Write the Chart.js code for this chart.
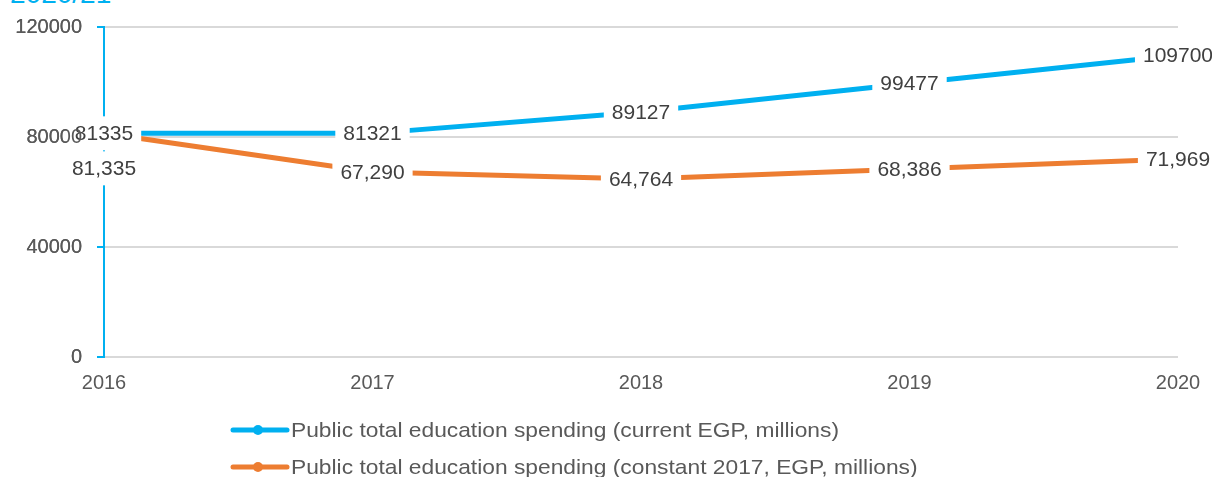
<!DOCTYPE html>
<html>
<head>
<meta charset="utf-8">
<title>Public education spending</title>
<script src="https://cdn.jsdelivr.net/npm/chart.js@4"></script>
<style>
  html, body { margin: 0; padding: 0; background: #fff; overflow: hidden; }
  #wrap { position: relative; width: 1212px; height: 477px; }
  #period { position: absolute; left: 10px; top: -22px; line-height: 30px; font: 28px "Liberation Sans", Arial, sans-serif; color: #00B0F0; white-space: nowrap; }
  canvas { position: absolute; left: 0; top: 0; }
</style>
</head>
<body>
<div id="wrap">
  <div id="period">2020/21</div>
  <canvas id="spendChart" width="1212" height="477"></canvas>
</div>
<script>
// years on the x axis
const years = ['2016', '2017', '2018', '2019', '2020'];

// EGP millions
const currentEgp = [81335, 81321, 89127, 99477, 109700];
const constant2017 = [81335, 67290, 64764, 68386, 71969];

const yTicks = [0, 40000, 80000, 120000];

const seriesNames = [
  'Public total education spending (current EGP, millions)',
  'Public total education spending (constant 2017, EGP, millions)'
];

const BLUE = '#00B0F0';
const ORANGE = '#ED7D31';
const FONT = '"Liberation Sans", Arial, sans-serif';

// value labels sit on the line with a white box behind them
const valueLabels = {
  id: 'valueLabels',
  afterDatasetsDraw(chart) {
    const ctx = chart.ctx;
    ctx.save();
    ctx.font = '21px ' + FONT;
    ctx.textAlign = 'center';
    ctx.textBaseline = 'middle';
    chart.data.datasets.forEach((ds, di) => {
      const meta = chart.getDatasetMeta(di);
      meta.data.forEach((pt, i) => {
        const v = ds.data[i];
        const txt = ds.commas ? v.toLocaleString('en-US') : String(v);
        const shift = (ds.labelShift && ds.labelShift[i]) || 0;
        const x = pt.x;
        const y = pt.y + shift;
        const w = ctx.measureText(txt).width + 16;
        const h = 34;
        ctx.fillStyle = '#fff';
        ctx.fillRect(x - w / 2, y - h / 2, w, h);
        ctx.fillStyle = '#404040';
        ctx.fillText(txt, x, y + 1);
      });
    });
    ctx.restore();
    // y tick labels stay on top of the label boxes
    chart.scales.y.drawLabels(chart.chartArea);
  },
  afterDraw(chart) {
    // legend: line sample with a dot, one series per row
    const ctx = chart.ctx;
    ctx.save();
    ctx.font = '21px ' + FONT;
    ctx.textBaseline = 'middle';
    const rows = [430, 467];
    chart.data.datasets.forEach((ds, di) => {
      const y = rows[di];
      ctx.strokeStyle = ds.borderColor;
      ctx.lineWidth = 5;
      ctx.lineCap = 'round';
      ctx.beginPath();
      ctx.moveTo(233, y);
      ctx.lineTo(287, y);
      ctx.stroke();
      ctx.fillStyle = ds.borderColor;
      ctx.beginPath();
      ctx.arc(258, y, 5, 0, Math.PI * 2);
      ctx.fill();
      // legend text is a little wider than the plain face
      ctx.save();
      ctx.translate(291, y + 1);
      ctx.scale(1.085, 1);
      ctx.fillStyle = '#595959';
      ctx.fillText(ds.label, 0, 0);
      ctx.restore();
    });
    ctx.restore();
  }
};

new Chart(document.getElementById('spendChart'), {
  type: 'line',
  data: {
    labels: years,
    datasets: [
      {
        label: seriesNames[0],
        data: currentEgp,
        borderColor: BLUE,
        backgroundColor: BLUE,
        borderWidth: 5,
        pointRadius: 0,
        tension: 0,
        commas: false
      },
      {
        label: seriesNames[1],
        data: constant2017,
        borderColor: ORANGE,
        backgroundColor: ORANGE,
        borderWidth: 5,
        pointRadius: 0,
        tension: 0,
        commas: true,
        labelShift: [35, 0, 0, 0, 0]
      }
    ]
  },
  options: {
    responsive: false,
    animation: false,
    layout: { padding: { left: 0, right: 34, top: 24, bottom: 75 } },
    plugins: {
      legend: { display: false },
      tooltip: { enabled: false }
    },
    scales: {
      x: {
        offset: false,
        grid: { display: false, drawTicks: false },
        border: { display: false },
        ticks: { color: '#595959', font: { family: FONT, size: 20 }, padding: 14, maxRotation: 0 },
        afterFit(scale) {
          scale.height = 45;
          // edge labels may hang past the plot, the layout padding covers them
          scale.paddingLeft = 0;
          scale.paddingRight = 0;
        }
      },
      y: {
        min: 0,
        max: 120000,
        afterBuildTicks(scale) { scale.ticks = yTicks.map(v => ({ value: v })); },
        afterFit(scale) { scale.width = 104; },
        grid: { color: '#D9D9D9', lineWidth: 2, tickColor: BLUE, tickLength: 7 },
        border: { color: BLUE, width: 2 },
        ticks: {
          color: '#595959',
          font: { family: FONT, size: 20 },
          padding: 15,
          callback: v => String(v)
        }
      }
    }
  },
  plugins: [valueLabels]
});
</script>
</body>
</html>
